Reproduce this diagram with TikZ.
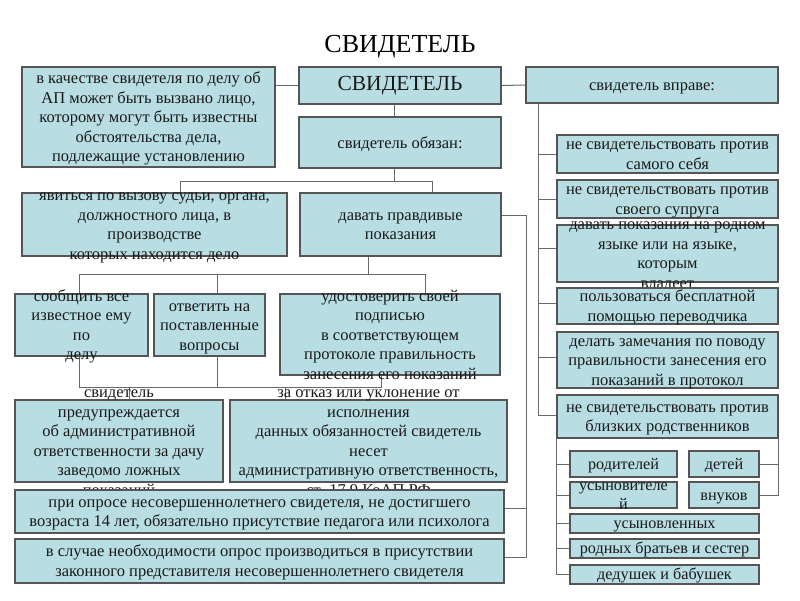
\documentclass[tikz,border=0pt]{standalone}
\usepackage{fontspec}
\setmainfont{Liberation Serif}
\usetikzlibrary{calc}
\definecolor{boxfill}{RGB}{184,222,227}
\definecolor{boxline}{RGB}{85,85,85}
\definecolor{connc}{RGB}{105,105,105}
\definecolor{txt}{RGB}{25,25,25}
\pgfdeclarelayer{bg}
\pgfsetlayers{bg,main}
\newcommand\boxtext[1]{\smash{\raisebox{-6pt}{\begin{tabular}{@{}c@{}}#1\end{tabular}}}}
\newcommand\mkbox[7][]{\node[bx,minimum width={(#5-#3)*1pt},minimum height={(#6-#4)*1pt},#1] (#2) at ({(#3+#5)/2},{(#4+#6)/2}) {\boxtext{#7}};}
\begin{document}
\begin{tikzpicture}[x=1pt,y=-1pt,
  bx/.style={draw=boxline,fill=boxfill,line width=1.3pt,inner sep=0pt,text=txt,font=\fontsize{16.5}{19.5}\selectfont},
  sm/.style={font=\fontsize{16.2}{19}\selectfont},
  conn/.style={draw=connc,line width=1pt}]
\useasboundingbox (0,0) rectangle (800,600);

\node[font=\fontsize{26}{30}\selectfont,text=black] (title) at (400,47) {СВИДЕТЕЛЬ};

% left column / centre
\mkbox{A}{22}{67}{275}{167}{в качестве свидетеля по делу об\\АП может быть вызвано лицо,\\которому могут быть известны\\обстоятельства дела,\\подлежащие установлению}
\node[bx,minimum width=202pt,minimum height=37pt,font=\fontsize{21.5}{25}\selectfont] (main) at (400,85.5) {СВИДЕТЕЛЬ};
\mkbox{right}{526}{67}{778}{103}{свидетель вправе:}
\mkbox{obl}{299}{117}{501}{168}{свидетель обязан:}
\mkbox{yav}{22}{193}{287}{256}{явиться по вызову судьи, органа,\\должностного лица, в\\производстве\\которых находится дело}
\mkbox{dav}{300}{193}{501}{256}{давать правдивые\\показания}
\mkbox{soob}{15}{294}{148}{356}{сообщить все\\известное ему\\по\\делу}
\mkbox{otv}{154}{294}{265}{356}{ответить на\\поставленные\\вопросы}
\mkbox{udost}{280}{294}{500}{375}{удостоверить своей\\подписью\\в соответствующем\\протоколе правильность\\занесения его показаний}
\mkbox{pred}{15}{400}{223}{482}{свидетель\\предупреждается\\об административной\\ответственности за дачу\\заведомо ложных\\показаний}
\mkbox{otk}{230}{400}{507}{482}{за отказ или уклонение от\\исполнения\\данных обязанностей свидетель\\несет\\административную ответственность,\\ст. 17.9 КоАП РФ}
\mkbox{opr}{15}{490}{504}{533}{при опросе несовершеннолетнего свидетеля, не достигшего\\возраста 14 лет, обязательно присутствие педагога или психолога}
\mkbox{zak}{15}{539}{504}{583}{в случае необходимости опрос производиться в присутствии\\законного представителя несовершеннолетнего свидетеля}

% right column
\mkbox{r1}{557}{135}{778}{173}{не свидетельствовать против\\самого себя}
\mkbox{r2}{557}{180}{778}{218}{не свидетельствовать против\\своего супруга}
\mkbox{r3}{557}{225}{778}{282}{давать показания на родном\\языке или на языке,\\которым\\владеет}
\mkbox{r4}{557}{288}{778}{324}{пользоваться бесплатной\\помощью переводчика}
\mkbox{r5}{557}{332}{778}{388}{делать замечания по поводу\\правильности занесения его\\показаний в протокол}
\mkbox{r6}{557}{395}{778}{438}{не свидетельствовать против\\близких родственников}

% relatives
\mkbox[sm]{s1}{570}{451}{677}{477}{родителей}
\mkbox[sm]{s2}{689}{451}{759}{477}{детей}
\mkbox[sm]{s3}{570}{482}{677}{508}{усыновителе\\й}
\mkbox[sm]{s4}{689}{482}{759}{508}{внуков}
\mkbox[sm]{s5}{570}{514}{759}{533}{усыновленных}
\mkbox[sm]{s6}{570}{539}{759}{558}{родных братьев и сестер}
\mkbox[sm]{s7}{570}{565}{759}{584}{дедушек и бабушек}

% junction coordinates
\coordinate (b1l) at (180,181);
\coordinate (b1r) at (432,181);
\coordinate (b1m) at (394,181);
\coordinate (b2l) at (79,274);
\coordinate (b2r) at (425,274);
\coordinate (b2m) at (368,274);
\coordinate (b2o) at (217,274);
\coordinate (b3l) at (79,387);
\coordinate (b3r) at (381,387);
\coordinate (b3o) at (217,387);
\coordinate (b3p) at (129,387);
\coordinate (b3k) at (285,387);
\coordinate (rbt) at (526,215);
\coordinate (rb1) at (526,508);
\coordinate (rb2) at (526,557);
\coordinate (cb) at (538,415);

\begin{pgfonlayer}{bg}
\fill[white] (0,0) rectangle (800,600);
\draw[conn] (main.west) -- (main.west -| A.east);
\draw[conn] (main.east) -- (right.west);
\draw[conn] (main.south -| b1m) -- (obl.north -| b1m);
\draw[conn] (obl.south -| b1m) -- (b1m);
\draw[conn] (yav.north -| b1l) -- (b1l) -- (b1r) -- (dav.north -| b1r);
\draw[conn] (dav.south -| b2m) -- (b2m);
\draw[conn] (soob.north -| b2l) -- (b2l) -- (b2r) -- (udost.north -| b2r);
\draw[conn] (otv.north -| b2o) -- (b2o);
\draw[conn] (soob.south -| b3l) -- (b3l) -- (b3r) -- (udost.south -| b3r);
\draw[conn] (otv.south -| b3o) -- (b3o);
\draw[conn] (b3p) -- (pred.north -| b3p);
\draw[conn] (b3k) -- (otk.north -| b3k);
\draw[conn] (dav.east |- rbt) -- (rbt) -- (rb2) -- (zak.east |- rb2);
\draw[conn] (rb1) -- (opr.east |- rb1);
\draw[conn] (right.south -| cb) -- (cb) -- (r6.west |- cb);
\draw[conn] (r1.west -| cb) -- (r1.west);
\draw[conn] (r2.west -| cb) -- (r2.west);
\draw[conn] (r3.west -| cb) ++(0,-5) -- ($(r3.west)+(0,-5)$);
\draw[conn] (r4.west -| cb) ++(0,-3) -- ($(r4.west)+(0,-3)$);
\draw[conn] (r5.west -| cb) ++(0,-3) -- ($(r5.west)+(0,-3)$);
\draw[conn] (r6.south west) -- (r6.south west |- s7.west) -- (s7.west);
\draw[conn] (s1.west -| r6.south west) -- (s1.west);
\draw[conn] (s3.west -| r6.south west) -- (s3.west);
\draw[conn] (s5.west -| r6.south west) -- (s5.west);
\draw[conn] (s6.west -| r6.south west) -- (s6.west);
\draw[conn] (r6.south east) -- (r6.south east |- s4.east) -- (s4.east);
\draw[conn] (s2.east -| r6.south east) -- (s2.east);
\end{pgfonlayer}
\end{tikzpicture}
\end{document}
